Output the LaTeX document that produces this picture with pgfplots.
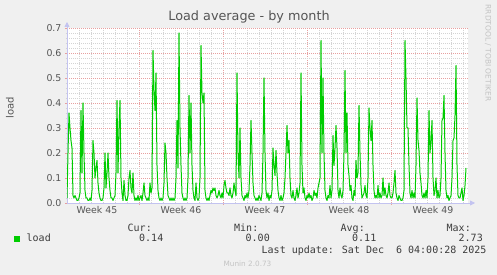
\documentclass[border=0pt]{standalone}
\usepackage{pgfplots}
\pgfplotsset{compat=1.18}
\usepackage{fontspec}
\setmainfont{DejaVu Sans}
\newfontfamily\monofont{DejaVu Sans Mono}
\usetikzlibrary{arrows.meta}
\definecolor{bgc}{RGB}{240,240,240}
\definecolor{munin}{RGB}{0,204,0}
\definecolor{txt}{RGB}{85,85,85}
\definecolor{legtxt}{RGB}{60,60,60}
\definecolor{majgrid}{RGB}{232,160,160}
\definecolor{mingrid}{RGB}{212,212,212}
\definecolor{axc}{RGB}{195,195,240}
\definecolor{faint}{RGB}{195,195,195}
\begin{document}
\begin{tikzpicture}[x=1pt,y=1pt]
\path[use as bounding box, fill=bgc] (0,0) rectangle (497,275);
\begin{axis}[
 at={(67pt,72pt)}, anchor=south west, scale only axis, width=401pt, height=175pt,
 xmin=67, xmax=468, ymin=0, ymax=0.7,
 axis background/.style={fill=white},
 axis lines=left,
 axis line style={axc, line width=0.8pt, -{Triangle[length=5pt,width=5pt]}},
 x axis line style={shorten >=-7pt},
 y axis line style={shorten >=-6pt},
 xtick={139,223,307,391}, xticklabels={},
 minor xtick={67,79,...,463},
 ytick={0,0.1,0.2,0.3,0.4,0.5,0.6,0.7},
 minor y tick num=4,
 grid=both,
 major grid style={majgrid, dash pattern=on 1pt off 1pt, line width=0.6pt},
 minor grid style={mingrid, dash pattern=on 1pt off 1pt, line width=0.6pt},
 tick align=outside, major tick length=2pt, minor tick length=1.5pt,
 major tick style={majgrid, line width=0.6pt}, minor tick style={mingrid, line width=0.6pt},
 yticklabel style={/pgf/number format/.cd, fixed, fixed zerofill, precision=1, assume math mode=true, /tikz/.cd, font=\fontsize{9.4}{11}\selectfont, text=txt},
 extra x ticks={97,181,265,349,433},
 extra x tick labels={Week 45,Week 46,Week 47,Week 48,Week 49},
 extra x tick style={grid=none, major tick length=0pt, xticklabel style={font=\fontsize{9.4}{11}\selectfont, text=txt}},
 clip=true,
]
\addplot[munin, line width=1pt, line join=round] coordinates {
(67,0.02) (68,0.20) (69,0.36) (70,0.30) (71,0.25) (72,0.22) (73,0.03) (74,0.02) (75,0.03) (76,0.02)
(77,0.01) (78,0.01) (79,0.02) (80,0.04) (81,0.37) (82,0.12) (83,0.40) (84,0.20) (85,0.05) (86,0.02)
(87,0.02) (88,0.01) (89,0.01) (90,0.02) (91,0.01) (92,0.05) (93,0.25) (94,0.20) (95,0.10) (96,0.14)
(97,0.17) (98,0.08) (99,0.04) (100,0.02) (101,0.01) (102,0.01) (103,0.02) (104,0.06) (105,0.20) (106,0.06)
(107,0.12) (108,0.20) (109,0.10) (110,0.05) (111,0.02) (112,0.02) (113,0.01) (114,0.02) (115,0.03) (116,0.12)
(117,0.41) (118,0.12) (119,0.30) (120,0.41) (121,0.10) (122,0.04) (123,0.01) (124,0.09) (125,0.03) (126,0.01)
(127,0.01) (128,0.03) (129,0.10) (130,0.13) (131,0.06) (132,0.04) (133,0.12) (134,0.03) (135,0.01) (136,0.02)
(137,0.01) (138,0.03) (139,0.01) (140,0.02) (141,0.03) (142,0.01) (143,0.04) (144,0.08) (145,0.03) (146,0.02)
(147,0.01) (148,0.02) (149,0.01) (150,0.08) (151,0.04) (152,0.06) (153,0.61) (154,0.45) (155,0.37) (156,0.52)
(157,0.15) (158,0.05) (159,0.02) (160,0.01) (161,0.02) (162,0.01) (163,0.02) (164,0.08) (165,0.24) (166,0.20)
(167,0.10) (168,0.03) (169,0.02) (170,0.01) (171,0.02) (172,0.01) (173,0.02) (174,0.01) (175,0.02) (176,0.10)
(177,0.33) (178,0.14) (179,0.68) (180,0.30) (181,0.15) (182,0.04) (183,0.02) (184,0.01) (185,0.02) (186,0.01)
(187,0.02) (188,0.10) (189,0.43) (190,0.20) (191,0.40) (192,0.15) (193,0.05) (194,0.02) (195,0.01) (196,0.08)
(197,0.02) (198,0.01) (199,0.02) (200,0.10) (201,0.63) (202,0.44) (203,0.40) (204,0.44) (205,0.05) (206,0.02)
(207,0.01) (208,0.02) (209,0.01) (210,0.03) (211,0.05) (212,0.04) (213,0.06) (214,0.05) (215,0.06) (216,0.03)
(217,0.02) (218,0.03) (219,0.05) (220,0.03) (221,0.02) (222,0.04) (223,0.02) (224,0.07) (225,0.09) (226,0.06)
(227,0.04) (228,0.04) (229,0.03) (230,0.06) (231,0.03) (232,0.02) (233,0.04) (234,0.08) (235,0.05) (236,0.03)
(237,0.52) (238,0.20) (239,0.10) (240,0.30) (241,0.10) (242,0.03) (243,0.02) (244,0.01) (245,0.03) (246,0.02)
(247,0.04) (248,0.02) (249,0.05) (250,0.15) (251,0.33) (252,0.20) (253,0.08) (254,0.03) (255,0.02) (256,0.01)
(257,0.02) (258,0.01) (259,0.03) (260,0.02) (261,0.01) (262,0.04) (263,0.20) (264,0.50) (265,0.20) (266,0.05)
(267,0.02) (268,0.04) (269,0.01) (270,0.03) (271,0.02) (272,0.05) (273,0.22) (274,0.15) (275,0.11) (276,0.21)
(277,0.12) (278,0.05) (279,0.02) (280,0.01) (281,0.03) (282,0.01) (283,0.02) (284,0.04) (285,0.10) (286,0.20)
(287,0.31) (288,0.20) (289,0.25) (290,0.10) (291,0.03) (292,0.02) (293,0.05) (294,0.02) (295,0.01) (296,0.03)
(297,0.06) (298,0.02) (299,0.04) (300,0.08) (301,0.52) (302,0.15) (303,0.04) (304,0.06) (305,0.02) (306,0.01)
(307,0.03) (308,0.02) (309,0.04) (310,0.02) (311,0.03) (312,0.01) (313,0.02) (314,0.05) (315,0.03) (316,0.04)
(317,0.02) (318,0.06) (319,0.08) (320,0.10) (321,0.65) (322,0.20) (323,0.50) (324,0.20) (325,0.05) (326,0.02)
(327,0.01) (328,0.03) (329,0.02) (330,0.07) (331,0.02) (332,0.05) (333,0.27) (334,0.15) (335,0.22) (336,0.31)
(337,0.22) (338,0.05) (339,0.02) (340,0.06) (341,0.03) (342,0.02) (343,0.05) (344,0.20) (345,0.53) (346,0.20)
(347,0.36) (348,0.15) (349,0.11) (350,0.05) (351,0.07) (352,0.02) (353,0.01) (354,0.05) (355,0.03) (356,0.17)
(357,0.10) (358,0.12) (359,0.39) (360,0.20) (361,0.07) (362,0.02) (363,0.03) (364,0.04) (365,0.07) (366,0.03)
(367,0.02) (368,0.10) (369,0.38) (370,0.30) (371,0.25) (372,0.33) (373,0.15) (374,0.05) (375,0.02) (376,0.03)
(377,0.02) (378,0.07) (379,0.02) (380,0.04) (381,0.02) (382,0.03) (383,0.10) (384,0.03) (385,0.06) (386,0.03)
(387,0.02) (388,0.04) (389,0.08) (390,0.03) (391,0.02) (392,0.02) (393,0.04) (394,0.08) (395,0.13) (396,0.04)
(397,0.02) (398,0.01) (399,0.03) (400,0.02) (401,0.01) (402,0.01) (403,0.02) (404,0.05) (405,0.65) (406,0.50)
(407,0.30) (408,0.30) (409,0.15) (410,0.04) (411,0.02) (412,0.05) (413,0.02) (414,0.04) (415,0.02) (416,0.15)
(417,0.42) (418,0.25) (419,0.21) (420,0.12) (421,0.08) (422,0.03) (423,0.02) (424,0.04) (425,0.02) (426,0.05)
(427,0.02) (428,0.10) (429,0.37) (430,0.20) (431,0.25) (432,0.33) (433,0.10) (434,0.03) (435,0.05) (436,0.10)
(437,0.02) (438,0.05) (439,0.02) (440,0.03) (441,0.10) (442,0.33) (443,0.34) (444,0.43) (445,0.20) (446,0.05)
(447,0.02) (448,0.03) (449,0.01) (450,0.02) (451,0.03) (452,0.10) (453,0.25) (454,0.26) (455,0.35) (456,0.55)
(457,0.15) (458,0.03) (459,0.02) (460,0.02) (461,0.04) (462,0.06) (463,0.01) (464,0.03) (465,0.07) (466,0.14)
};
\end{axis}
\node[font=\fontsize{12.8}{15}\selectfont, text=txt] at (249,258) {Load average - by month};
\node[rotate=90, font=\fontsize{10}{12}\selectfont, text=txt] at (10,167) {load};
\node[rotate=-90, font=\fontsize{7.5}{9}\selectfont, text=faint] at (488,222) {RRDTOOL / TOBI OETIKER};
\begin{scope}[every node/.style={anchor=base west, inner sep=0pt, font=\monofont\fontsize{10}{12}\selectfont, text=legtxt}]
\node at (127.5,43) {Cur:};
\node at (234,43) {Min:};
\node at (340.5,43) {Avg:};
\node at (446.5,43) {Max:};
\node at (26.5,33) {load};
\node at (139,33) {0.14};
\node at (245.5,33) {0.00};
\node at (352,33) {0.11};
\node at (458.5,33) {2.73};
\node at (261.5,21) {Last update: Sat Dec\ \ 6 04:00:28 2025};
\end{scope}
\fill[munin] (14,32.5) rectangle (20,38.5);
\node[anchor=base, inner sep=0pt, font=\fontsize{7.3}{9}\selectfont, text=faint] at (247.5,8) {Munin 2.0.73};
\end{tikzpicture}
\end{document}
